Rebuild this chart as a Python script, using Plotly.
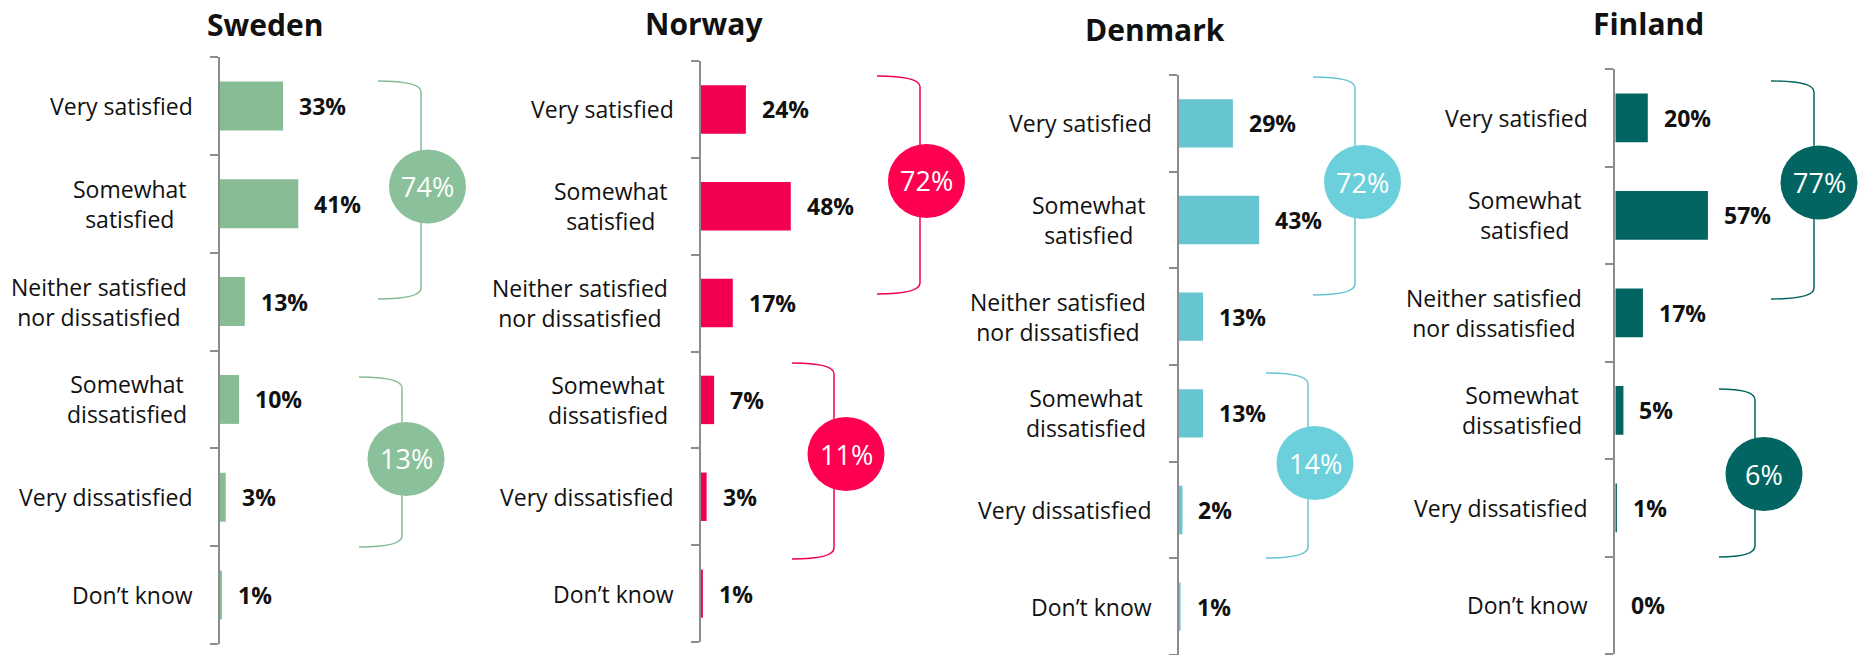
import plotly.graph_objects as go

W, H = 1870, 655

# ---------------- data ----------------
categories = [
    "Very satisfied",
    "Somewhat<br>satisfied",
    "Neither satisfied<br>nor dissatisfied",
    "Somewhat<br>dissatisfied",
    "Very dissatisfied",
    "Don’t know",
]
countries = ["Sweden", "Norway", "Denmark", "Finland"]
sweden = [33, 41, 13, 10, 3, 1]
norway = [24, 48, 17, 7, 3, 1]
denmark = [29, 43, 13, 13, 2, 1]
finland = [20, 57, 17, 5, 1, 0]
net_satisfied = [74, 72, 72, 77]
net_dissatisfied = [13, 11, 14, 6]

# ---------------- styles / layout ----------------
series = [sweden, norway, denmark, finland]
bar_colors = ["#88BC94", "#F2004F", "#67C5D1", "#036561"]
circle_colors = ["#8BC19A", "#FF0050", "#6BD0DC", "#036561"]

# pixel geometry of each panel: axis x, plot top, plot bottom, px per percent
axis_px = [220, 701, 1178.7, 1615.3]
top_px = [57, 61, 75, 69]
bottom_px = [644, 642, 655, 654]
px_per_pct = [1.91, 1.87, 1.87, 1.625]
title_px = [(265, 25), (704, 23.5), (1154.5, 29.5), (1648.5, 23.5)]
PANEL_W = 300

# bracket geometry (y in category-index units, x as pixel offsets from axis)
upper_br = [(-0.255, 1.974, 158, 201), (-0.345, 1.906, 176, 219),
            (-0.479, 1.776, 134.3, 176.3), (-0.377, 1.859, 155.7, 198.7)]
lower_br = [(2.771, 4.509, 139, 182), (2.619, 4.643, 91, 133),
            (2.583, 4.497, 87.3, 129.3), (2.782, 4.505, 103.7, 139.7)]
upper_circ = [(207.5, 0.824), (225.5, 0.739), (183.8, 0.607), (203.7, 0.664)]
lower_circ = [(186, 3.609), (145, 3.559), (136.3, 3.514), (148.7, 3.654)]

FONT = "Open Sans"
TXT = "#111111"
AX = "#8C8C8C"


def fx(p):
    return min(max(p / W, 0), 1)


def fy(p):
    return min(max(1 - p / H, 0), 1)


fig = go.Figure()
layout = dict(
    width=W, height=H, autosize=False,
    margin=dict(l=0, r=0, t=0, b=0),
    paper_bgcolor="white", plot_bgcolor="white",
    showlegend=False, bargap=0.5,
)
annotations = []
shapes = []
ypos = list(range(len(categories)))

for i, (name, vals) in enumerate(zip(countries, series)):
    n = "" if i == 0 else str(i + 1)
    xa, ya = "x" + n, "y" + n
    ax0 = axis_px[i]
    scale = px_per_pct[i]
    band = (bottom_px[i] - top_px[i]) / len(categories)
    right_px = min(ax0 + PANEL_W, W)

    layout["xaxis" + n] = dict(
        domain=[fx(ax0), fx(right_px)], range=[0, (right_px - ax0) / scale],
        visible=False, fixedrange=True, anchor=ya,
    )
    layout["yaxis" + n] = dict(
        domain=[fy(bottom_px[i]), fy(top_px[i])],
        range=[len(categories) - 0.5, -0.5], anchor=xa,
        tickmode="array", tickvals=[k - 0.5 for k in range(len(categories) + 1)],
        ticks="outside", ticklen=8, tickwidth=2, tickcolor=AX,
        showline=True, linecolor=AX, linewidth=2,
        showticklabels=False, showgrid=False, zeroline=False, fixedrange=True,
    )

    fig.add_trace(go.Bar(
        x=vals, y=ypos, orientation="h", width=0.5,
        marker=dict(color=bar_colors[i], line=dict(width=0)),
        xaxis=xa, yaxis=ya, hoverinfo="skip", cliponaxis=False,
    ))

    # category labels
    for k, cat in enumerate(categories):
        annotations.append(dict(
            xref=xa, yref=ya, x=0, y=k, text=cat, showarrow=False,
            xanchor="right", yanchor="middle", align="center",
            xshift=-31 if "<br>" in cat else -25,
            font=dict(family=FONT, size=23, color=TXT),
        ))
    # value labels
    for k, v in enumerate(vals):
        annotations.append(dict(
            xref=xa, yref=ya, x=v, y=k, text=f"{v}%", showarrow=False,
            xanchor="left", yanchor="middle", xshift=14,
            font=dict(family=FONT, size=23, color=TXT, weight="bold"),
        ))
    # title
    tx, ty = title_px[i]
    annotations.append(dict(
        xref="paper", yref="paper", x=fx(tx), y=fy(ty), text=f"<b>{name}</b>",
        showarrow=False, xanchor="center", yanchor="middle",
        font=dict(family=FONT, size=30, color=TXT),
    ))

    # brackets + circles
    c = 11 / band
    for (yt, yb, xl, xr), (cx, cy), val in (
        (upper_br[i], upper_circ[i], net_satisfied[i]),
        (lower_br[i], lower_circ[i], net_dissatisfied[i]),
    ):
        xl_d, xr_d = xl / scale, xr / scale
        path = (f"M {xl_d},{yt} Q {xr_d},{yt} {xr_d},{yt + c} "
                f"L {xr_d},{yb - c} Q {xr_d},{yb} {xl_d},{yb}")
        shapes.append(dict(type="path", xref=xa, yref=ya, path=path,
                           line=dict(color=bar_colors[i], width=1.5)))
        shapes.append(dict(type="circle", xref=xa, yref=ya,
                           xsizemode="pixel", ysizemode="pixel",
                           xanchor=cx / scale, yanchor=cy,
                           x0=-38.5, x1=38.5, y0=-37, y1=37,
                           fillcolor=circle_colors[i], line=dict(width=0)))
        annotations.append(dict(
            xref=xa, yref=ya, x=cx / scale, y=cy, text=f"{val}%", showarrow=False,
            xanchor="center", yanchor="middle",
            font=dict(family=FONT, size=27, color="white", weight=400),
        ))

layout["annotations"] = annotations
layout["shapes"] = shapes
fig.update_layout(**layout)
fig.write_html(
    "out.html",
    config={"displayModeBar": False, "staticPlot": True},
    post_script="document.body.style.margin='0';document.body.style.overflow='hidden';",
)
